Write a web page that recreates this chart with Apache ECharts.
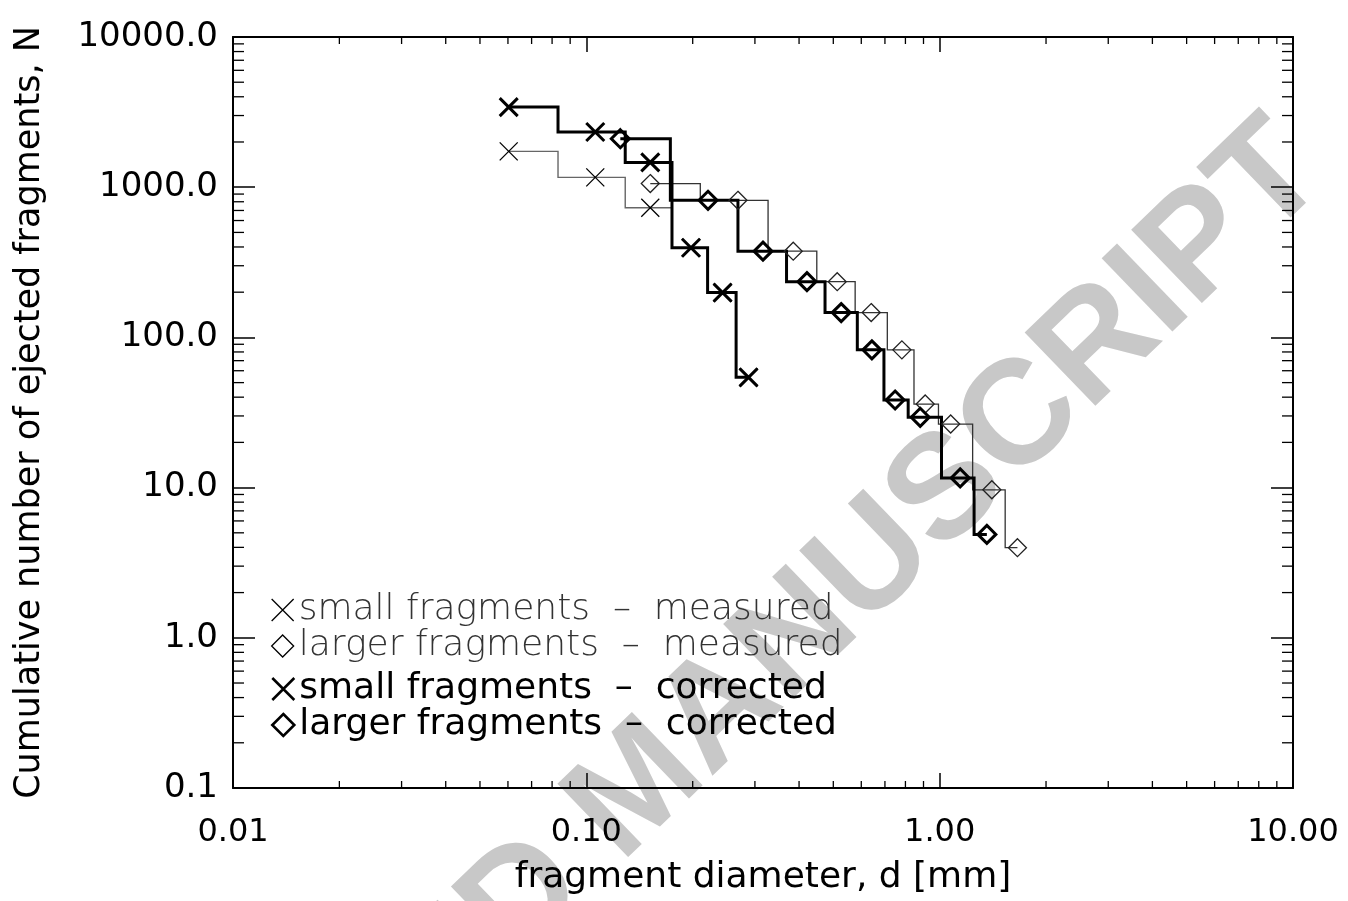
<!DOCTYPE html>
<html>
<head>
<meta charset="utf-8">
<script src="https://cdn.jsdelivr.net/npm/echarts@6.0.0/dist/echarts.min.js"></script>
<style>
html,body{margin:0;padding:0;background:#fff;}
#chart{width:1348px;height:901px;}
</style>
</head>
<body>
<div id="chart"></div>
<script>
// ---- data ----
const smallMeasD = [0.0603, 0.106, 0.1517, 0.1978, 0.243, 0.2878];
const smallMeasN = [1731, 1163, 729, 395, 198.7, 54.2];
const smallCorrD = [0.0603, 0.106, 0.1517, 0.1978, 0.243, 0.2878];
const smallCorrN = [3414, 2329, 1463, 395, 198.7, 54.2];
const largeMeasD = [0.1517, 0.2686, 0.3851, 0.5129, 0.6401, 0.7818, 0.910, 1.0744, 1.405, 1.660];
const largeMeasN = [1057, 818, 375, 235, 146.3, 82.6, 36.0, 26.5, 9.67, 3.98];
const largeCorrD = [0.1248, 0.2210, 0.3162, 0.4211, 0.5264, 0.643, 0.748, 0.881, 1.143, 1.360];
const largeCorrN = [2102, 818, 375, 235, 146.3, 82.6, 38.3, 29.4, 11.6, 4.88];

const seriesNames = [
  'small fragments  –  measured',
  'larger fragments  –  measured',
  'small fragments  –  corrected',
  'larger fragments  –  corrected'
];
const xDecades = [0.01, 0.1, 1];
const yDecades = [0.1, 1, 10, 100, 1000];
const minorMult = [2, 3, 4, 5, 6, 7, 8, 9];
const xMin = 0.01, xMax = 10, yMin = 0.1, yMax = 10000;

const XPATH = 'path://M0,0L20,20M20,0L0,20';
const FONT = 'DejaVu Sans';

const chart = echarts.init(document.getElementById('chart'), null, {renderer: 'canvas'});

function pairs(xs, ys) { return xs.map((x, i) => [x, ys[i]]); }

// IDL-style histogram (psym=10) path: steps at the linear midpoint between points
function stepSeries(xs, ys, color, width, z) {
  return {
    type: 'custom', silent: true, z: z,
    data: pairs(xs, ys),
    encode: {x: 0, y: 1},
    renderItem: function (params, api) {
      if (params.dataIndex !== 0) return null;
      const n = xs.length;
      const pts = [];
      for (let i = 0; i < n; i++) {
        const xa = i === 0 ? xs[0] : (xs[i - 1] + xs[i]) / 2;
        const xb = i === n - 1 ? xs[i] : (xs[i] + xs[i + 1]) / 2;
        pts.push(api.coord([xa, ys[i]]));
        pts.push(api.coord([xb, ys[i]]));
      }
      return {
        type: 'polyline',
        shape: {points: pts},
        style: {stroke: color, lineWidth: width, fill: null, lineJoin: 'miter'}
      };
    }
  };
}

function markerSeries(name, xs, ys, symbol, size, color, width, z) {
  return {
    type: 'scatter', name: name, z: z,
    data: pairs(xs, ys),
    symbol: symbol, symbolSize: size,
    itemStyle: {color: 'transparent', borderColor: color, borderWidth: width, opacity: 1},
    emphasis: {disabled: true},
    silent: true
  };
}

// minor ticks on all four sides (log axes)
const minorTickSeries = {
  type: 'custom', silent: true, z: 5,
  data: [[1, 1]],
  renderItem: function (params, api) {
    const children = [];
    const xLen = 7, yLen = 11;
    xDecades.forEach(d => minorMult.forEach(m => {
      const v = d * m;
      const pb = api.coord([v, yMin]);
      const pt = api.coord([v, yMax]);
      children.push({type: 'line', shape: {x1: pb[0], y1: pb[1], x2: pb[0], y2: pb[1] - xLen}, style: {stroke: '#000', lineWidth: 1.3}});
      children.push({type: 'line', shape: {x1: pt[0], y1: pt[1], x2: pt[0], y2: pt[1] + xLen}, style: {stroke: '#000', lineWidth: 1.3}});
    }));
    yDecades.forEach(d => minorMult.forEach(m => {
      const v = d * m;
      const pl = api.coord([xMin, v]);
      const pr = api.coord([xMax, v]);
      children.push({type: 'line', shape: {x1: pl[0], y1: pl[1], x2: pl[0] + yLen, y2: pl[1]}, style: {stroke: '#000', lineWidth: 1.3}});
      children.push({type: 'line', shape: {x1: pr[0], y1: pr[1], x2: pr[0] - yLen, y2: pr[1]}, style: {stroke: '#000', lineWidth: 1.3}});
    }));
    return {type: 'group', children: children};
  }
};

const axisLineStyle = {show: true, lineStyle: {color: '#000', width: 2}};

const option = {
  animation: false,
  backgroundColor: '#fff',
  grid: {left: 233, right: 55, top: 37, bottom: 111, show: false},
  graphic: [{
    type: 'text', silent: true, z: -10,
    x: 640, y: 789,
    rotation: 44 * Math.PI / 180,
    style: {
      text: 'ACCEPTED MANUSCRIPT',
      font: 'bold 148px "Liberation Sans"',
      fill: '#c8c8c8',
      align: 'center', verticalAlign: 'middle'
    }
  }],
  xAxis: [{
    type: 'log', logBase: 10, min: xMin, max: xMax, position: 'bottom',
    name: 'fragment diameter, d [mm]', nameLocation: 'middle', nameGap: 72,
    nameTextStyle: {fontFamily: FONT, fontSize: 36, color: '#000'},
    axisLine: axisLineStyle,
    axisTick: {show: true, inside: true, length: 15, lineStyle: {color: '#000', width: 1.5}},
    axisLabel: {fontFamily: FONT, fontSize: 32, color: '#000', margin: 29,
      formatter: v => Number(v).toFixed(2)},
    splitLine: {show: false}
  }, {
    type: 'log', logBase: 10, min: xMin, max: xMax, position: 'top',
    axisLine: axisLineStyle,
    axisTick: {show: true, inside: true, length: 15, lineStyle: {color: '#000', width: 1.5}},
    axisLabel: {show: false}, splitLine: {show: false}
  }],
  yAxis: [{
    type: 'log', logBase: 10, min: yMin, max: yMax, position: 'left',
    name: 'Cumulative number of ejected fragments, N', nameLocation: 'middle', nameGap: 186,
    nameTextStyle: {fontFamily: FONT, fontSize: 35, color: '#000'},
    axisLine: axisLineStyle,
    axisTick: {show: true, inside: true, length: 22, lineStyle: {color: '#000', width: 1.5}},
    axisLabel: {fontFamily: FONT, fontSize: 34, color: '#000', margin: 15,
      formatter: v => Number(v).toFixed(1)},
    splitLine: {show: false}
  }, {
    type: 'log', logBase: 10, min: yMin, max: yMax, position: 'right',
    axisLine: axisLineStyle,
    axisTick: {show: true, inside: true, length: 22, lineStyle: {color: '#000', width: 1.5}},
    axisLabel: {show: false}, splitLine: {show: false}
  }],
  legend: [{
    orient: 'vertical', left: 266, top: 587, itemGap: 0,
    itemWidth: 22, itemHeight: 22, selectedMode: false,
    textStyle: {fontFamily: FONT, fontSize: 36, fontWeight: 200, color: '#333', lineHeight: 34},
    data: [
      {name: seriesNames[0], icon: XPATH, itemStyle: {color: 'transparent', borderColor: '#000', borderWidth: 1.3}},
      {name: seriesNames[1], icon: 'diamond', itemStyle: {color: 'transparent', borderColor: '#000', borderWidth: 1.3}}
    ]
  }, {
    orient: 'vertical', left: 266, top: 666, itemGap: 0,
    itemWidth: 22, itemHeight: 22, selectedMode: false,
    textStyle: {fontFamily: FONT, fontSize: 36, color: '#000', lineHeight: 34},
    data: [
      {name: seriesNames[2], icon: XPATH, itemStyle: {color: 'transparent', borderColor: '#000', borderWidth: 2.6}},
      {name: seriesNames[3], icon: 'diamond', itemStyle: {color: 'transparent', borderColor: '#000', borderWidth: 2.6}}
    ]
  }],
  series: [
    stepSeries(smallMeasD, smallMeasN, '#666', 1.4, 3),
    stepSeries(largeMeasD, largeMeasN, '#333', 1.3, 3),
    stepSeries(smallCorrD, smallCorrN, '#000', 3, 4),
    stepSeries(largeCorrD, largeCorrN, '#000', 3, 4),
    markerSeries(seriesNames[0], smallMeasD, smallMeasN, XPATH, 18, '#000', 1.3, 6),
    markerSeries(seriesNames[1], largeMeasD, largeMeasN, 'diamond', 18, '#222', 1.3, 6),
    markerSeries(seriesNames[2], smallCorrD, smallCorrN, XPATH, 18, '#000', 3, 7),
    markerSeries(seriesNames[3], largeCorrD, largeCorrN, 'diamond', 18, '#000', 3, 7),
    minorTickSeries
  ]
};
chart.setOption(option);
</script>
</body>
</html>
